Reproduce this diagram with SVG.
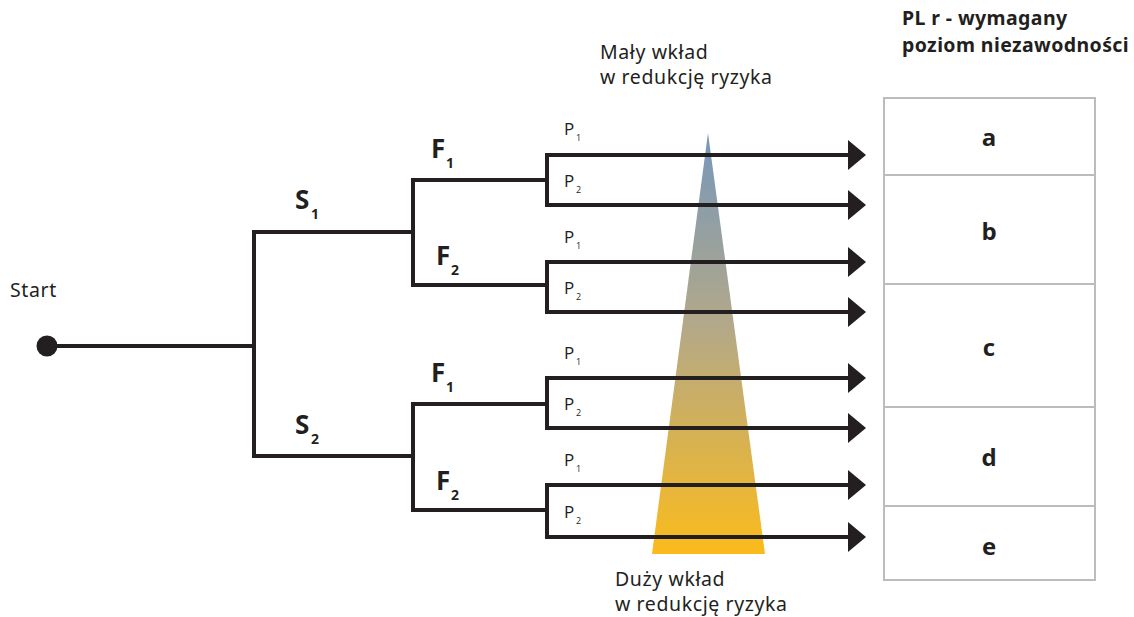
<svg xmlns="http://www.w3.org/2000/svg" width="1134" height="617" viewBox="0 0 1134 617">
  <defs>
    <linearGradient id="riskGrad" x1="0" y1="133" x2="0" y2="554" gradientUnits="userSpaceOnUse">
      <stop offset="0" stop-color="#7597bb"/>
      <stop offset="0.45" stop-color="#b2a88a"/>
      <stop offset="1" stop-color="#fbbb1c"/>
    </linearGradient>
    <marker id="arrow" markerUnits="userSpaceOnUse" markerWidth="18" markerHeight="30" refX="1" refY="15" orient="auto">
      <path d="M0,0 L18,15 L0,30 z" fill="#231f20"/>
    </marker>
    <style>
      .wire { fill: none; stroke: #231f20; stroke-width: 4; stroke-linecap: butt; stroke-linejoin: miter; }
      .arr { fill: none; stroke: #231f20; stroke-width: 4; marker-end: url(#arrow); }
      .txt { font-family: "Noto Sans", "Open Sans", sans-serif; font-size: 19.5px; letter-spacing: 0.6px; fill: #231f20; }
      .hdr { font-family: "Noto Sans", "Open Sans", sans-serif; font-size: 19.5px; letter-spacing: 0.4px; font-weight: bold; fill: #231f20; }
      .big { font-family: "Open Sans", "Liberation Sans", sans-serif; font-size: 26px; font-weight: bold; fill: #231f20; }
      .sub { font-family: "Open Sans", "Liberation Sans", sans-serif; font-size: 14px; font-weight: bold; fill: #231f20; }
      .p { font-family: "Open Sans", "Liberation Sans", sans-serif; font-size: 17px; fill: #231f20; }
      .ps { font-family: "Open Sans", "Liberation Sans", sans-serif; font-size: 9px; fill: #231f20; }
      .cell { fill: #ffffff; stroke: #bcbcbc; stroke-width: 2; }
      .lvl { font-family: "Open Sans", "Liberation Sans", sans-serif; font-size: 24px; font-weight: bold; fill: #231f20; text-anchor: middle; }
    </style>
  </defs>

  <rect width="1134" height="617" fill="#ffffff"/>

  <!-- risk reduction wedge -->
  <g id="wedge">
    <polygon points="708,133 765,554 652,554" fill="url(#riskGrad)"/>
    <text class="txt" x="600" y="59">Mały wkład</text>
    <text class="txt" x="600" y="84">w redukcję ryzyka</text>
    <text class="txt" x="615" y="586">Duży wkład</text>
    <text class="txt" x="615" y="611">w redukcję ryzyka</text>
  </g>

  <!-- start node -->
  <g id="start">
    <circle cx="47" cy="346" r="10.5" fill="#231f20"/>
    <text class="txt" x="10" y="297">Start</text>
  </g>

  <!-- tree connectors -->
  <g id="connectors">
    <path class="wire" d="M47,346 H254"/>
    <path class="wire" d="M256,232 H254 V456 H413"/>
    <path class="wire" d="M254,232 H413"/>
    <path class="wire" d="M547,180 H413 V285 H547"/>
    <path class="wire" d="M547,404 H413 V510 H547"/>
    <path class="wire" d="M566,155 H547 V205 H566"/>
    <path class="wire" d="M566,262 H547 V312 H566"/>
    <path class="wire" d="M566,378 H547 V428 H566"/>
    <path class="wire" d="M566,485 H547 V537 H566"/>
    <path class="arr" d="M545,155 H849"/>
    <path class="arr" d="M545,205 H849"/>
    <path class="arr" d="M545,262 H849"/>
    <path class="arr" d="M545,312 H849"/>
    <path class="arr" d="M545,378 H849"/>
    <path class="arr" d="M545,428 H849"/>
    <path class="arr" d="M545,485 H849"/>
    <path class="arr" d="M545,537 H849"/>
  </g>

  <!-- severity / frequency labels -->
  <g id="S1"><text class="big" x="295" y="209">S</text><text class="sub" x="311" y="219">1</text></g>
  <g id="S2"><text class="big" x="295" y="434">S</text><text class="sub" x="311" y="444">2</text></g>
  <g id="F1a"><text class="big" x="431" y="158">F</text><text class="sub" x="446" y="168">1</text></g>
  <g id="F2a"><text class="big" x="436" y="265">F</text><text class="sub" x="451" y="275">2</text></g>
  <g id="F1b"><text class="big" x="431" y="382">F</text><text class="sub" x="446" y="392">1</text></g>
  <g id="F2b"><text class="big" x="436" y="490">F</text><text class="sub" x="451" y="500">2</text></g>

  <!-- avoidance labels -->
  <g id="P-labels">
    <text class="p" x="564" y="135">P</text><text class="ps" x="576" y="141">1</text>
    <text class="p" x="564" y="187">P</text><text class="ps" x="576" y="193">2</text>
    <text class="p" x="564" y="243">P</text><text class="ps" x="576" y="249">1</text>
    <text class="p" x="564" y="294">P</text><text class="ps" x="576" y="300">2</text>
    <text class="p" x="564" y="359">P</text><text class="ps" x="576" y="365">1</text>
    <text class="p" x="564" y="410">P</text><text class="ps" x="576" y="416">2</text>
    <text class="p" x="564" y="466">P</text><text class="ps" x="576" y="472">1</text>
    <text class="p" x="564" y="518">P</text><text class="ps" x="576" y="524">2</text>
  </g>

  <!-- required performance level table -->
  <g id="PLr-header">
    <text class="hdr" x="902" y="25">PL r - wymagany</text>
    <text class="hdr" x="902" y="52">poziom niezawodności</text>
  </g>
  <g id="PL-a"><rect class="cell" x="884" y="98" width="211" height="77"/><text class="lvl" x="989" y="146">a</text></g>
  <g id="PL-b"><rect class="cell" x="884" y="175" width="211" height="109"/><text class="lvl" x="989" y="240">b</text></g>
  <g id="PL-c"><rect class="cell" x="884" y="284" width="211" height="123"/><text class="lvl" x="989" y="356">c</text></g>
  <g id="PL-d"><rect class="cell" x="884" y="407" width="211" height="99"/><text class="lvl" x="989" y="466">d</text></g>
  <g id="PL-e"><rect class="cell" x="884" y="506" width="211" height="74"/><text class="lvl" x="989" y="555">e</text></g>
</svg>
